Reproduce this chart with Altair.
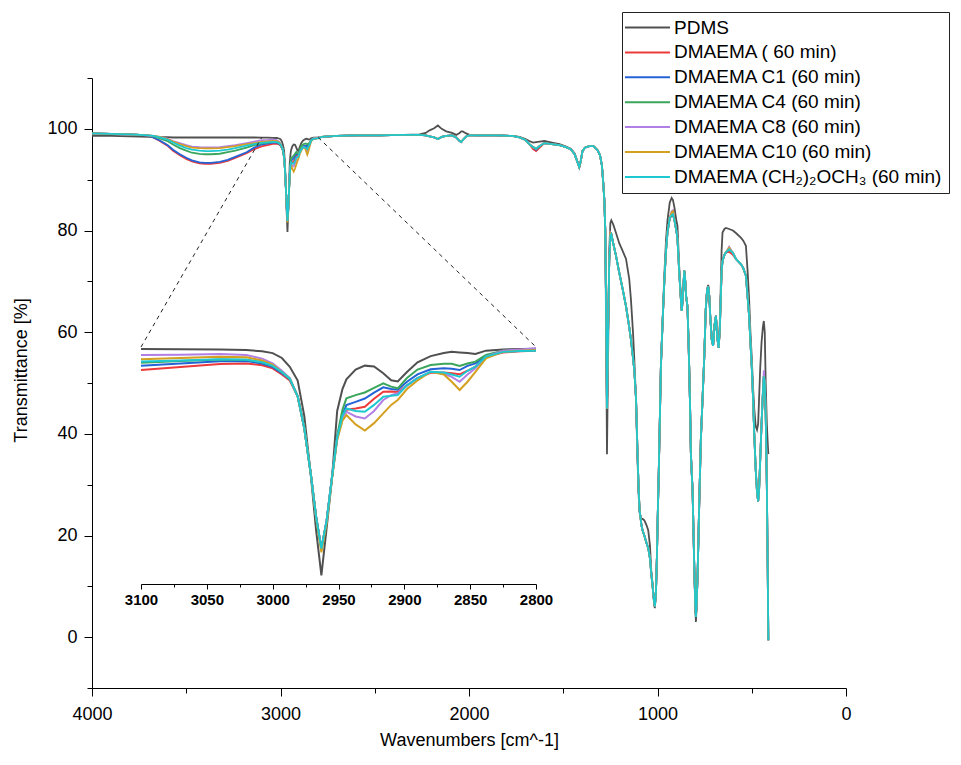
import altair as alt
import pandas as pd

FONT = "Liberation Sans"

SERIES = ["PDMS", "DMAEMA ( 60 min)", "DMAEMA C1 (60 min)", "DMAEMA C4 (60 min)",
          "DMAEMA C8 (60 min)", "DMAEMA C10 (60 min)", "DMAEMA (CH\u2082)\u2082OCH\u2083 (60 min)"]
COLORS = ["#505050", "#ec3a3a", "#2463d6", "#3aa65c", "#b27fe4", "#d3a020", "#1ec8d0"]

# ---- segment A : 4000 - 3140 cm-1 (broad O-H band) ----
WN_A = [4000, 3900, 3800, 3746, 3700, 3675, 3640, 3600, 3570, 3534, 3500, 3470, 3430,
        3400, 3370, 3322, 3280, 3240, 3180, 3140]
PDMS_A = [98.6, 98.6, 98.5, 98.45, 98.4, 98.4, 98.35, 98.35, 98.3, 98.3, 98.3, 98.3, 98.3,
          98.3, 98.3, 98.3, 98.3, 98.3, 98.3, 98.3]
RED_A = [99.1, 99.0, 98.9, 98.8, 98.6, 98.3, 97.6, 96.7, 95.7, 94.8, 94.1, 93.6, 93.2,
         93.1, 93.1, 93.3, 93.7, 94.3, 95.2, 96.0]
BLUE_A = [99.1, 99.0, 98.9, 98.8, 98.6, 98.3, 97.7, 96.8, 95.9, 95.0, 94.3, 93.8, 93.4,
          93.3, 93.3, 93.5, 93.9, 94.5, 95.4, 96.3]
GREEN_A = [99.1, 99.0, 98.9, 98.8, 98.7, 98.5, 98.1, 97.6, 96.9, 96.2, 95.7, 95.3, 95.07,
           95.0, 95.0, 95.1, 95.4, 95.7, 96.3, 96.8]
PURPLE_A = [99.1, 99.0, 98.9, 98.8, 98.7, 98.6, 98.4, 98.1, 97.6, 97.2, 96.8, 96.5, 96.4,
            96.35, 96.35, 96.4, 96.6, 96.8, 97.2, 97.5]
ORANGE_A = [99.1, 99.0, 98.9, 98.8, 98.7, 98.6, 98.4, 98.0, 97.5, 97.0, 96.6, 96.3, 96.2,
            96.15, 96.15, 96.2, 96.4, 96.6, 97.0, 97.2]
CYAN_A = [99.1, 99.0, 98.9, 98.8, 98.7, 98.6, 98.3, 97.9, 97.3, 96.7, 96.2, 95.9, 95.7,
          95.6, 95.6, 95.7, 95.9, 96.2, 96.7, 97.0]

# ---- segment B : 3100 - 2800 cm-1 (C-H region, also shown in the inset) ----
WN_B = [3100, 3070, 3040, 3020, 3008, 3000, 2993, 2987, 2981, 2976, 2971, 2967, 2963, 2959,
        2955, 2951, 2947, 2944, 2937, 2930, 2923, 2916, 2910, 2905, 2898, 2890, 2880, 2870,
        2864, 2858, 2852, 2846, 2838, 2825, 2812, 2800]
PDMS_B = [98.29, 98.27, 98.24, 98.2, 98.1, 97.95, 97.55, 96.83, 95.7, 92.8, 87.9, 83.4, 79.7, 83.6,
          87.6, 93.2, 95.0, 95.8, 96.6, 96.92, 96.85, 96.3, 95.72, 95.62, 96.4, 97.2, 97.7, 97.95,
          98.05, 98.0, 97.95, 97.88, 98.15, 98.25, 98.28, 98.3]
RED_B = [96.56, 96.8, 97.05, 97.1, 96.95, 96.7, 96.2, 95.7, 94.4, 91.8, 88.0, 84.5, 81.9, 84.2,
         87.7, 91.0, 92.7, 93.3, 93.4, 93.55, 94.2, 94.78, 94.8, 94.75, 95.3, 95.9, 96.34, 96.36,
         96.3, 96.21, 96.5, 96.84, 97.66, 98.0, 98.1, 98.15]
BLUE_B = [96.92, 97.1, 97.28, 97.3, 97.1, 96.8, 96.3, 95.8, 94.4, 91.8, 88.0, 84.5, 81.9, 84.2,
          87.7, 91.0, 92.9, 93.69, 93.95, 94.22, 94.7, 95.14, 95.0, 94.95, 95.6, 96.2, 96.62, 96.7,
          96.66, 96.56, 96.9, 97.11, 97.71, 98.1, 98.15, 98.2]
GREEN_B = [97.16, 97.3, 97.42, 97.4, 97.2, 96.9, 96.4, 95.85, 94.4, 91.8, 88.0, 84.5, 81.9, 84.2,
           87.7, 91.2, 93.3, 94.24, 94.5, 94.72, 95.1, 95.47, 95.2, 95.06, 95.9, 96.6, 96.97, 97.08,
           97.08, 96.89, 97.1, 97.25, 97.79, 98.15, 98.2, 98.26]
PURPLE_B = [97.79, 97.82, 97.88, 97.8, 97.5, 97.1, 96.5, 95.9, 94.4, 91.8, 88.0, 84.5, 81.8, 84.2,
            87.7, 91.0, 92.6, 93.14, 92.75, 92.59, 93.2, 94.1, 94.5, 94.65, 95.3, 95.9, 96.42, 96.25,
            96.0, 95.6, 96.2, 96.7, 97.66, 98.15, 98.25, 98.34]
ORANGE_B = [97.44, 97.55, 97.65, 97.6, 97.35, 97.0, 96.4, 95.85, 94.4, 91.8, 88.0, 84.4, 81.6, 84.0,
            87.6, 90.8, 92.4, 92.87, 92.1, 91.6, 92.2, 93.0, 93.7, 94.1, 95.0, 95.7, 96.42, 96.2,
            95.6, 94.92, 95.6, 96.4, 97.52, 98.05, 98.15, 98.2]
CYAN_B = [97.25, 97.35, 97.45, 97.4, 97.2, 96.9, 96.4, 95.85, 94.4, 91.8, 88.0, 84.5, 81.9, 84.2,
          87.7, 91.0, 92.8, 93.41, 93.2, 93.14, 93.7, 94.37, 94.45, 94.51, 95.3, 95.9, 96.42, 96.36,
          96.2, 96.01, 96.5, 96.84, 97.66, 98.05, 98.12, 98.15]

# ---- segment C : 2780 - 412 cm-1 (grafted samples nearly coincide) ----
WN_C = [2780, 2700, 2600, 2474, 2350, 2262, 2230, 2209, 2185, 2165, 2145, 2121, 2090, 2068, 2050,
        2041, 2033, 2015, 1997, 1962, 1850, 1770, 1732, 1700, 1680, 1660, 1644, 1625, 1600, 1560,
        1520, 1485, 1460, 1440, 1425, 1415, 1408, 1398, 1385, 1362, 1340, 1318, 1305, 1295, 1288,
        1282, 1277, 1272, 1268, 1262, 1256, 1250, 1245, 1235, 1220, 1203, 1185, 1167, 1150, 1141,
        1130, 1123, 1114, 1106, 1100, 1095, 1085, 1079, 1070, 1058, 1049, 1040, 1033, 1026, 1018,
        1014, 1008, 1003, 998, 993, 988, 982, 973, 964, 955, 947, 935, 925, 918, 910,
        900, 894, 885, 876, 871, 865, 858, 853, 848, 841, 836, 832, 827, 823, 818,
        814, 808, 805, 800, 796, 792, 787, 779, 770, 762, 752, 744, 737, 731, 725,
        720, 712, 705, 697, 690, 683, 676, 670, 665, 660, 655, 645, 637, 620, 600,
        584, 558, 545, 531, 522, 514, 507, 500, 493, 487, 479, 472, 466, 461, 455,
        448, 441, 436, 431, 426, 420, 415, 412]
GRAFTED_C = [98.4, 98.6, 98.7, 98.7, 98.8, 98.8, 98.7, 98.5, 98.3, 98.0, 98.4, 98.6, 98.7, 98.3, 97.6,
             97.4, 97.8, 98.5, 98.7, 98.7, 98.7, 98.6, 98.3, 97.8, 97.0, 96.4, 96.1, 96.6, 97.2, 97.0,
             96.8, 96.4, 96.0, 95.0, 93.5, 92.5, 93.5, 95.6, 96.3, 96.6, 96.6, 95.8, 94.8, 92.8, 89.5,
             86.0, 80.0, 62.0, 45.0, 60.0, 74.0, 79.0, 79.3, 77.5, 75.0, 71.7, 68.5, 65.1, 61.0, 58.6,
             55.0, 52.5, 47.0, 36.2, 29.0, 25.0, 22.0, 21.0, 20.0, 18.5, 17.5, 15.5, 12.5, 10.0, 7.0,
             6.0, 9.0, 16.0, 25.0, 33.0, 42.0, 53.3, 62.0, 69.8, 76.0, 79.6, 82.5, 83.0, 83.2, 82.0,
             80.0, 78.3, 72.0, 66.5, 64.2, 67.5, 72.1, 70.2, 67.0, 65.1, 59.0, 53.3, 45.0, 36.2, 32.0,
             29.0, 19.0, 13.9, 7.0, 4.0, 7.0, 12.6, 25.7, 38.9, 46.0, 55.0, 64.5, 68.2, 69.0, 67.0,
             63.0, 58.5, 57.3, 61.5, 63.2, 59.0, 56.9, 60.0, 66.0, 72.0, 74.0, 75.2, 75.7, 76.3, 75.6,
             74.4, 73.4, 72.6, 71.1, 67.0, 63.2, 58.0, 53.3, 47.0, 40.2, 33.0, 28.5, 26.7, 29.0, 35.0,
             42.0, 48.0, 51.3, 50.0, 44.0, 30.0, 12.0, -0.6]
PDMS_C = [98.4, 98.6, 98.7, 98.7, 98.8, 98.9, 99.2, 99.7, 100.1, 100.65, 100.0, 99.5, 99.2, 98.8, 99.2,
          99.5, 99.5, 99.1, 98.8, 98.7, 98.7, 98.6, 98.4, 98.0, 97.6, 97.3, 97.4, 97.5, 97.6, 97.3,
          97.0, 96.5, 96.1, 95.2, 93.6, 92.4, 93.4, 95.6, 96.3, 96.6, 96.6, 95.8, 94.8, 92.8, 89.5,
          86.0, 80.0, 58.0, 36.0, 55.0, 76.0, 81.5, 82.0, 81.2, 79.5, 77.5, 76.0, 74.4, 70.5, 66.5,
          60.0, 54.6, 46.7, 34.9, 28.0, 24.5, 23.2, 23.3, 23.0, 22.0, 21.0, 18.0, 13.0, 10.5, 6.5,
          5.7, 9.0, 16.0, 25.0, 33.0, 42.0, 53.3, 62.0, 71.0, 78.0, 82.0, 85.5, 86.4, 86.0, 84.5,
          82.0, 80.9, 73.0, 67.0, 64.2, 67.0, 72.0, 70.0, 67.0, 65.0, 59.0, 53.3, 45.0, 36.2, 32.0,
          29.0, 19.0, 13.9, 6.0, 3.0, 7.0, 12.6, 25.7, 38.9, 46.0, 55.0, 64.5, 68.5, 69.3, 67.0,
          63.0, 58.5, 57.3, 61.5, 63.2, 59.0, 56.9, 61.0, 68.0, 76.0, 79.6, 80.3, 80.5, 80.3, 80.0,
          79.5, 78.6, 78.0, 77.0, 72.0, 66.5, 60.0, 55.0, 49.0, 45.0, 41.5, 40.8, 42.0, 47.0, 53.0,
          58.0, 61.0, 62.2, 60.0, 50.0, 42.0, 38.0, 36.0]
# readings where an individual grafted spectrum departs from the common trace
RED_C_DIFF = {1660: 96.0, 1644: 95.6, 1625: 96.3, 925: 82.8, 620: 75.8, 600: 75.2}
BLUE_C_DIFF = {1644: 95.9}
GREEN_C_DIFF = {}
PURPLE_C_DIFF = {1250: 79.6, 925: 83.8, 918: 84.0, 620: 76.8, 436: 52.5}
ORANGE_C_DIFF = {1250: 79.5, 925: 83.6, 918: 83.8, 620: 76.6}
CYAN_C_DIFF = {}

SEG_A = [PDMS_A, RED_A, BLUE_A, GREEN_A, PURPLE_A, ORANGE_A, CYAN_A]
SEG_B = [PDMS_B, RED_B, BLUE_B, GREEN_B, PURPLE_B, ORANGE_B, CYAN_B]
DIFFS = [None, RED_C_DIFF, BLUE_C_DIFF, GREEN_C_DIFF, PURPLE_C_DIFF, ORANGE_C_DIFF, CYAN_C_DIFF]

rows = []
for i, name in enumerate(SERIES):
    for w, v in zip(WN_A, SEG_A[i]):
        rows.append({"series": name, "wn": w, "T": v})
    for w, v in zip(WN_B, SEG_B[i]):
        rows.append({"series": name, "wn": w, "T": v})
    if i == 0:
        for w, v in zip(WN_C, PDMS_C):
            rows.append({"series": name, "wn": w, "T": v})
    else:
        for w, v in zip(WN_C, GRAFTED_C):
            rows.append({"series": name, "wn": w, "T": DIFFS[i].get(w, v)})
df = pd.DataFrame(rows)
df_inset = df[(df.wn >= 2800) & (df.wn <= 3100)]

# ---- layout ----
W, H = 754, 610
X_DOM = [4000, 0]
Y_DOM = [-10, 110]
INSET_X_DOM = [3100, 2800]
INSET_Y_DOM = [79, 98.45]
INSET_XR = [49, 444]     # pixel range of the inset inside the plot area
INSET_YR = [506, 269]


def main_x(px):
    return X_DOM[0] + (X_DOM[1] - X_DOM[0]) * px / W


def main_y(py):
    return Y_DOM[1] - (Y_DOM[1] - Y_DOM[0]) * py / H


# connectors between the zoomed range on the spectrum and the inset corners
conn = pd.DataFrame([
    {"g": "l", "wn": 3100, "T": 98.3},
    {"g": "l", "wn": main_x(INSET_XR[0]), "T": main_y(INSET_YR[1])},
    {"g": "r", "wn": 2800, "T": 98.3},
    {"g": "r", "wn": main_x(INSET_XR[1]), "T": main_y(INSET_YR[1])},
])

legend = alt.Legend(
    title=None, orient="none", legendX=530, legendY=-66,
    symbolType="M-3,0H3", symbolSize=225, symbolStrokeWidth=2,
    symbolOffset=10, labelOffset=17,
    labelFont=FONT, labelFontSize=19, labelColor="black", labelLimit=400,
    rowPadding=4.9, padding=6, strokeColor="#222222", fillColor="white",
    cornerRadius=0,
)
color = alt.Color("series:N", scale=alt.Scale(domain=SERIES, range=COLORS), legend=legend)

x_axis = alt.Axis(
    values=[4000, 3500, 3000, 2500, 2000, 1500, 1000, 500, 0], format="d",
    labelExpr="datum.value % 1000 === 0 ? datum.label : ''",
    tickSize={"condition": {"test": "datum.value % 1000 === 0", "value": 8}, "value": 5},
    labelFlush=False, labelFontSize=18, labelPadding=9, labelColor="black",
    title="Wavenumbers [cm^-1]", titleFontSize=18, titleFontWeight="normal", titlePadding=8,
    titleColor="black", domainColor="black", tickColor="black", grid=False,
    labelFont=FONT, titleFont=FONT,
)
y_axis = alt.Axis(
    values=list(range(-10, 111, 10)),
    labelExpr="datum.value % 20 === 0 ? datum.label : ''",
    tickSize={"condition": {"test": "datum.value % 20 === 0", "value": 8}, "value": 5},
    labelFontSize=18, labelPadding=7, labelColor="black",
    title="Transmittance [%]", titleFontSize=18, titleFontWeight="normal", titlePadding=16,
    titleY=292,
    titleColor="black", domainColor="black", tickColor="black", grid=False,
    labelFont=FONT, titleFont=FONT,
)
inset_axis = alt.Axis(
    orient="bottom", offset=-(H - INSET_YR[0]), title=None,
    values=list(range(3100, 2799, -25)), format="d",
    labelExpr="datum.value % 50 === 0 ? datum.label : ''",
    tickSize={"condition": {"test": "datum.value % 50 === 0", "value": 5}, "value": 3},
    labelFlush=False, labelFontSize=15, labelFontWeight="bold", labelPadding=3,
    labelColor="black", domainColor="black", tickColor="black", grid=False, labelFont=FONT,
)

mx = alt.X("wn:Q", scale=alt.Scale(domain=X_DOM, nice=False, zero=False), axis=x_axis)
my = alt.Y("T:Q", scale=alt.Scale(domain=Y_DOM, nice=False, zero=False), axis=y_axis)

main_layers = []
for name in SERIES:
    main_layers.append(
        alt.Chart(df).transform_filter(alt.datum.series == name)
        .mark_line(strokeWidth=1.8).encode(x=mx, y=my, color=color)
    )
connectors = alt.Chart(conn).mark_line(strokeWidth=1, strokeDash=[4, 4], color="#222222").encode(
    x=mx, y=my, detail="g:N")
main = alt.layer(*main_layers, connectors)

ix = alt.X("wn:Q", scale=alt.Scale(domain=INSET_X_DOM, range=INSET_XR, nice=False, zero=False),
           axis=inset_axis)
iy = alt.Y("T:Q", scale=alt.Scale(domain=INSET_Y_DOM, range=INSET_YR, nice=False, zero=False),
           axis=None)
inset_layers = []
for name in SERIES:
    inset_layers.append(
        alt.Chart(df_inset).transform_filter(alt.datum.series == name)
        .mark_line(strokeWidth=2).encode(x=ix, y=iy, color=color)
    )
inset = alt.layer(*inset_layers)

chart = alt.layer(main, inset).resolve_scale(x="independent", y="independent").properties(
    width=W, height=H,
    autosize=alt.AutoSizeParams(type="none"),
    padding={"left": 84, "top": 70, "right": 106, "bottom": 64},
    background="white",
).configure_view(stroke=None)

chart.save("out.html", embed_options={"renderer": "svg", "actions": False})
